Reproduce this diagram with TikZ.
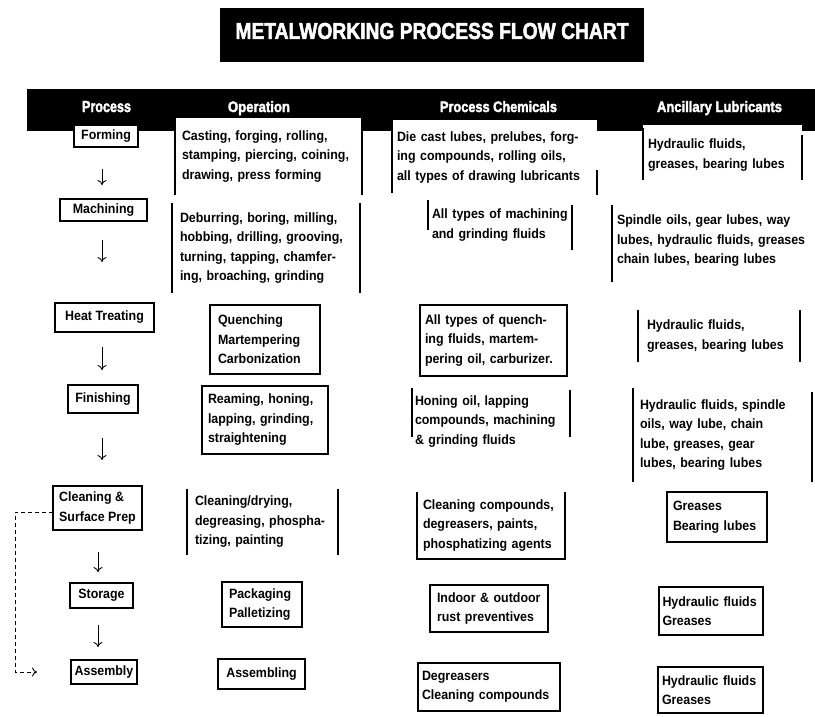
\documentclass[tikz,border=0pt]{standalone}
\usepackage{fontspec}
\setmainfont{Liberation Sans}[FakeStretch=0.92]
\newfontfamily\heavyfnt{Liberation Sans}[BoldFeatures={FakeBold=2.5}]
\usepackage{graphicx}
\usetikzlibrary{arrows.meta}
\newcommand\bodyfnt{\fontsize{13.5}{19.5}\selectfont\bfseries}
\newcommand\hdtxt[2]{\resizebox{#1}{11pt}{\heavyfnt\bfseries #2}}
\begin{document}
\begin{tikzpicture}[x=1pt,y=-1pt,
  every node/.style={inner sep=0pt, outer sep=0pt},
  pbox/.style={draw, line width=1.2pt, fill=white, font=\bodyfnt, align=center},
  tbox/.style={font=\bodyfnt, align=left, anchor=north west},
  fbox/.style={tbox, draw, line width=1.2pt, fill=white},
  side/.style={line width=1.2pt},
  flow/.style={line width=0.9pt, -{Computer Modern Rightarrow[length=5pt,width=9pt]}},
  dashflow/.style={flow, dash pattern=on 4pt off 3pt},
]
\useasboundingbox (0,0) rectangle (815,716);
\fill[white] (0,0) rectangle (815,716);

% title
\node[fill=black, minimum width=424pt, minimum height=54pt, anchor=north west] (titlebox) at (220,8) {};
\node[text=white] (title) at (432,31) {\resizebox{393pt}{16pt}{\heavyfnt\bfseries METALWORKING PROCESS FLOW CHART}};

% header bar
\node[fill=black, anchor=north west, minimum width=788pt, minimum height=42pt] (bar) at (27,89) {};
\node[text=white, anchor=base] (hproc) at (106.5,112) {\hdtxt{49pt}{Process}};
\node[text=white, anchor=base] (hop) at (259,112) {\hdtxt{62pt}{Operation}};
\node[text=white, anchor=base] (hpc) at (498.5,112) {\hdtxt{117pt}{Process Chemicals}};
\node[text=white, anchor=base] (hal) at (719.5,112) {\hdtxt{125pt}{Ancillary Lubricants}};

% process column
\node[pbox, minimum width=64pt, minimum height=22pt] (forming) at (106,136) {Forming};
\node[pbox, minimum width=87pt, minimum height=22pt] (machining) at (103.5,210) {Machining};
\node[pbox, minimum width=99pt, minimum height=29pt] (heat) at (104.5,317.5) {Heat Treating};
\node[pbox, minimum width=70pt, minimum height=28pt] (finishing) at (103,399) {Finishing};
\node[pbox, minimum width=89pt, minimum height=44pt, align=left] (cleaning) at (97.5,508) {Cleaning \&\\Surface Prep};
\node[pbox, minimum width=63pt, minimum height=25pt] (storage) at (101.5,595.5) {Storage};
\node[pbox, minimum width=66pt, minimum height=24pt] (assembly) at (104,672) {Assembly};

% operation column
\node[tbox, fill=white, minimum width=187pt, minimum height=77pt, text width=173pt, inner xsep=7pt] (op1) at (175,118) {Casting, forging, rolling,\\stamping, piercing, coining,\\drawing, press forming};
\node[tbox, minimum width=188pt, minimum height=90pt, text width=172pt, inner xsep=8pt] (op2) at (172,203) {Deburring, boring, milling,\\hobbing, drilling, grooving,\\turning, tapping, chamfer-\\ing, broaching, grinding};
\node[fbox, minimum width=110pt, minimum height=69pt, text width=94pt, inner xsep=8pt] (op3) at (210,305) {Quenching\\Martempering\\Carbonization};
\node[fbox, minimum width=126pt, minimum height=68pt, text width=114pt, inner xsep=6pt] (op4) at (202,386) {Reaming, honing,\\lapping, grinding,\\straightening};
\node[tbox, minimum width=151pt, minimum height=66pt, text width=135pt, inner xsep=8pt] (op5) at (187,489) {Cleaning/drying,\\degreasing, phospha-\\tizing, painting};
\node[fbox, minimum width=80pt, minimum height=45pt, text width=66pt, inner xsep=7pt] (op6) at (222,582) {Packaging\\Palletizing};
\node[pbox, minimum width=87pt, minimum height=30pt] (op7) at (261.5,674) {Assembling};

% process chemicals column
\node[tbox, fill=white, minimum width=205pt, minimum height=75pt, text width=195pt, inner xsep=5pt] (pc1) at (392,120) {Die cast lubes, prelubes, forg-\\ing compounds, rolling oils,\\all types of drawing lubricants};
\node[tbox, minimum width=144pt, minimum height=50pt, text width=136pt, inner xsep=4pt] (pc2) at (428,200) {All types of machining\\and grinding fluids};
\node[fbox, minimum width=147pt, minimum height=71pt, text width=137pt, inner xsep=5pt] (pc3) at (420,305) {All types of quench-\\ing fluids, martem-\\pering oil, carburizer.};
\node[tbox, minimum width=158pt, minimum height=67pt, text width=152pt, inner xsep=3pt] (pc4) at (412,388) {Honing oil, lapping\\compounds, machining\\\& grinding fluids};
\node[tbox, minimum width=148pt, minimum height=67pt, text width=136pt, inner xsep=6pt] (pc5) at (417,492) {Cleaning compounds,\\degreasers, paints,\\phosphatizing agents};
\node[fbox, minimum width=118pt, minimum height=47pt, text width=104pt, inner xsep=7pt] (pc6) at (430,585) {Indoor \& outdoor\\rust preventives};
\node[fbox, minimum width=142pt, minimum height=48pt, text width=134pt, inner xsep=4pt] (pc7) at (418,663) {Degreasers\\Cleaning compounds};

% ancillary lubricants column
\node[tbox, fill=white, minimum width=159pt, minimum height=60pt, text width=149pt, inner xsep=5pt] (al1) at (643,125) {Hydraulic fluids,\\greases, bearing lubes};
\node[tbox, minimum width=203pt, minimum height=82pt, text width=193pt, inner xsep=5pt] (al2) at (612,200) {Spindle oils, gear lubes, way\\lubes, hydraulic fluids, greases\\chain lubes, bearing lubes};
\node[tbox, minimum width=162pt, minimum height=52pt, text width=144pt, inner xsep=9pt] (al3) at (638,310) {Hydraulic fluids,\\greases, bearing lubes};
\node[tbox, minimum width=179pt, minimum height=94pt, text width=165pt, inner xsep=7pt] (al4) at (633,388) {Hydraulic fluids, spindle\\oils, way lube, chain\\lube, greases, gear\\lubes, bearing lubes};
\node[fbox, minimum width=100pt, minimum height=50pt, text width=88pt, inner xsep=6pt] (al5) at (667,492) {Greases\\Bearing lubes};
\node[fbox, minimum width=104pt, minimum height=48pt, text width=97pt, inner xsep=3.5pt] (al6) at (659,587) {Hydraulic fluids\\Greases};
\node[fbox, minimum width=105pt, minimum height=46pt, text width=97pt, inner xsep=4pt] (al7) at (658,667) {Hydraulic fluids\\Greases};

% side rules of open boxes
\draw[side] (op1.north west) -- (op1.south west);
\draw[side] (op1.north east) -- (op1.south east);
\draw[side] (op2.north west) -- (op2.south west);
\draw[side] (op2.north east) -- (op2.south east);
\draw[side] (op5.north west) -- (op5.south west);
\draw[side] (op5.north east) -- (op5.south east);
\draw[side] (pc1.north west) -- ([yshift=2pt]pc1.south west);
\draw[side] ([yshift=-50pt]pc1.north east) -- (pc1.south east);
\draw[side] (pc2.north west) -- ([yshift=20pt]pc2.south west);
\draw[side] ([yshift=-5pt]pc2.north east) -- (pc2.south east);
\draw[side] (pc4.north west) -- ([yshift=18pt]pc4.south west);
\draw[side] ([yshift=-2pt]pc4.north east) -- ([yshift=18pt]pc4.south east);
\draw[side] (pc5.north west) -- (pc5.south west) -- (pc5.south east) -- (pc5.north east);
\draw[side] ([yshift=-3pt]al1.north west) -- ([yshift=5pt]al1.south west);
\draw[side] ([yshift=-10pt]al1.north east) -- ([yshift=5pt]al1.south east);
\draw[side] ([yshift=-5pt]al2.north west) -- (al2.south west);
\draw[side] (al3.north west) -- (al3.south west);
\draw[side] (al3.north east) -- (al3.south east);
\draw[side] (al4.north west) -- (al4.south west);
\draw[side] ([yshift=-4pt]al4.north east) -- (al4.south east);

% flow arrows
\coordinate (ax) at (102,0);
\coordinate (bx) at (98,0);
\draw[flow, shorten <=22pt, shorten >=14pt] (forming.south -| ax) -- (machining.north -| ax);
\draw[flow, shorten <=19pt, shorten >=41pt] (machining.south -| ax) -- (heat.north -| ax);
\draw[flow, shorten <=15pt, shorten >=15pt] (heat.south -| ax) -- (finishing.north -| ax);
\draw[flow, shorten <=25pt, shorten >=26pt] (finishing.south -| ax) -- (cleaning.north -| ax);
\draw[flow, shorten <=22pt, shorten >=11pt] (cleaning.south -| bx) -- (storage.north -| bx);
\draw[flow, shorten <=17pt, shorten >=13pt] (storage.south -| bx) -- (assembly.north -| bx);

% dashed return
\coordinate (dashend) at ([xshift=-34pt]assembly.west);
\draw[dashflow] ([yshift=-4pt]cleaning.west) -- ++(-38,0) |- (dashend);
\end{tikzpicture}
\end{document}
